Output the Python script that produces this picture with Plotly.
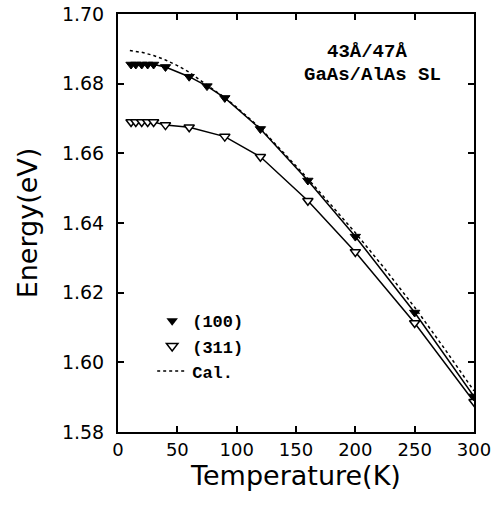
import plotly.graph_objects as go

# (100) sample, filled down-triangles
t_100 = [11, 15, 20, 25, 30, 40, 60, 75, 90, 120, 160, 200, 250, 300]
e_100 = [1.6855, 1.6855, 1.6855, 1.6855, 1.6855, 1.6848, 1.6820, 1.6793,
         1.6759, 1.6670, 1.6522, 1.6361, 1.6143, 1.5902]

# (311) sample, open down-triangles
t_311 = [11, 15, 20, 25, 30, 40, 60, 90, 120, 160, 200, 250, 300]
e_311 = [1.6690, 1.6690, 1.6690, 1.6690, 1.6690, 1.6681, 1.6675, 1.6648,
         1.6590, 1.6464, 1.6317, 1.6113, 1.5887]

# calculated curve
t_cal = [10, 20, 30, 40, 50, 60, 70, 80, 90, 100, 120, 140, 160, 180,
         200, 225, 250, 275, 300]
e_cal = [1.6895, 1.6890, 1.6881, 1.6868, 1.6852, 1.6833, 1.6808, 1.6785,
         1.6760, 1.6732, 1.6672, 1.6600, 1.6527, 1.6450, 1.6372, 1.6268,
         1.6158, 1.6040, 1.5918]

x_ticks = [0, 50, 100, 150, 200, 250, 300]
y_ticks = [1.58, 1.60, 1.62, 1.64, 1.66, 1.68, 1.70]

mono = "Liberation Mono"
sans = "DejaVu Sans"

fig = go.Figure()

# calculated curve (dotted)
fig.add_trace(go.Scatter(
    x=t_cal, y=e_cal, mode='lines', name='Cal.',
    line=dict(color='black', width=1.5, dash='dot'),
    showlegend=False
))

# measured data with connecting lines
fig.add_trace(go.Scatter(
    x=t_311, y=e_311, mode='lines+markers', showlegend=False,
    line=dict(color='black', width=1.5),
    marker=dict(symbol='triangle-down', size=9, color='white',
                line=dict(color='black', width=1.5))
))
fig.add_trace(go.Scatter(
    x=t_100, y=e_100, mode='lines+markers', showlegend=False,
    line=dict(color='black', width=1.5),
    marker=dict(symbol='triangle-down', size=9, color='black',
                line=dict(color='black', width=1))
))

# legend entries
fig.add_trace(go.Scatter(
    x=[None], y=[None], mode='markers', name='<b>(100)</b>',
    marker=dict(symbol='triangle-down', size=10, color='black')
))
fig.add_trace(go.Scatter(
    x=[None], y=[None], mode='markers', name='<b>(311)</b>',
    marker=dict(symbol='triangle-down', size=10, color='white',
                line=dict(color='black', width=1.5))
))
fig.add_trace(go.Scatter(
    x=[None], y=[None], mode='lines', name='<b>Cal.</b>',
    line=dict(color='black', width=1.5, dash='dot')
))

fig.add_annotation(
    xref='paper', yref='paper', x=0.70, y=0.908,
    text='<b>43Å/47Å</b>', showarrow=False,
    xanchor='center', yanchor='middle',
    font=dict(family=mono, size=19, color='black')
)
fig.add_annotation(
    xref='paper', yref='paper', x=0.716, y=0.855,
    text='<b>GaAs/AlAs SL</b>', showarrow=False,
    xanchor='center', yanchor='middle',
    font=dict(family=mono, size=19, color='black')
)

fig.update_layout(
    width=495, height=510,
    margin=dict(l=118, r=21, t=14, b=78),
    paper_bgcolor='white', plot_bgcolor='white',
    legend=dict(
        x=0.096, y=0.308, xanchor='left', yanchor='top',
        bgcolor='rgba(0,0,0,0)', tracegroupgap=0,
        font=dict(family=mono, size=17, color='black')
    ),
    font=dict(family=sans, color='black')
)

fig.update_xaxes(
    range=[0, 300], tickvals=x_ticks, automargin=False,
    ticks='inside', ticklen=6, tickwidth=1.5, tickcolor='black',
    showline=True, linecolor='black', linewidth=2, mirror='ticks',
    showgrid=False, zeroline=False,
    tickfont=dict(family=sans, size=18),
    title=dict(text='Temperature(K)', font=dict(family=sans, size=27),
               standoff=4)
)
fig.update_yaxes(
    range=[1.58, 1.70], tickvals=y_ticks, tickformat='.2f', automargin=False,
    ticks='inside', ticklen=6, tickwidth=1.5, tickcolor='black',
    showline=True, linecolor='black', linewidth=2, mirror='ticks',
    showgrid=False, zeroline=False,
    tickfont=dict(family=sans, size=19), ticklabelstandoff=8,
    title=dict(text='Energy(eV)', font=dict(family=sans, size=27),
               standoff=16)
)

# drop the page's default body margin so the figure fills the window
fig.write_html("out.html",
               config=dict(displayModeBar=False),
               post_script="document.body.style.margin='0';"
                           "document.body.style.overflow='hidden';")
